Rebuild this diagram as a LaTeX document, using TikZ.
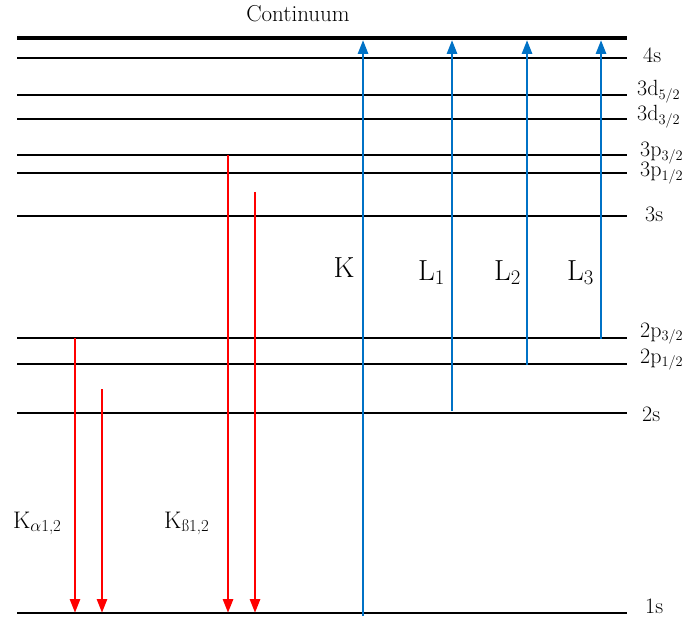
\documentclass[tikz,border=0pt]{standalone}
\usetikzlibrary{arrows.meta}
\definecolor{xblue}{RGB}{0,114,198}
\definecolor{xred}{RGB}{255,0,0}
\begin{document}
\begin{tikzpicture}[x=1pt,y=-1pt,
  lvl/.style={line width=2pt},
  cont/.style={line width=4.5pt},
  emis/.style={xred,line width=2.8pt,-{Triangle[length=14pt,width=10pt]}},
  absn/.style={xblue,line width=2.8pt,-{Triangle[length=14pt,width=10pt]}},
  lab/.style={anchor=base west,font=\fontsize{22}{26}\selectfont,inner sep=0pt},
  big/.style={anchor=base,font=\fontsize{29}{33}\selectfont,inner sep=0pt},
  kl/.style={anchor=base west,font=\fontsize{24}{28}\selectfont,inner sep=0pt}]
\useasboundingbox (0,0) rectangle (687,620);
% continuum
\coordinate (cL) at (17,38); \coordinate (cR) at (627,38);
\draw[cont] (cL) -- (cR);
\node[anchor=base,font=\fontsize{23}{26}\selectfont,inner sep=0pt] (ctext) at (298,22) {Continuum};
% levels
\foreach \n/\y in {s4/58,dA/95,dB/119,pA/155,pB/173,s3/216,qA/338,qB/364,s2/413,s1/613}{
  \coordinate (\n L) at (17,\y); \coordinate (\n R) at (627,\y);
  \draw[lvl] (\n L) -- (\n R);
}
% level labels
\node[lab] (t4s) at (643,63) {4s};
\node[lab] (t3d5) at (637,96) {3d$_{5/2}$};
\node[lab] (t3d3) at (637,121) {3d$_{3/2}$};
\node[lab] (t3p3) at (640,157) {3p$_{3/2}$};
\node[lab] (t3p1) at (640,177) {3p$_{1/2}$};
\node[lab] (t3s) at (645,222) {3s};
\node[lab] (t2p3) at (640,337) {2p$_{3/2}$};
\node[lab] (t2p1) at (640,363) {2p$_{1/2}$};
\node[lab] (t2s) at (642,421) {2s};
\node[lab] (t1s) at (645,613) {1s};
% emission arrows (red)
\coordinate (e1t) at (75,338);  \coordinate (e1b) at (75,613);
\coordinate (e2t) at (102,389); \coordinate (e2b) at (102,613);
\coordinate (e3t) at (228,155); \coordinate (e3b) at (228,613);
\coordinate (e4t) at (255,192); \coordinate (e4b) at (255,613);
\draw[emis] (e1t) -- (e1b);
\draw[emis] (e2t) -- (e2b);
\draw[emis] (e3t) -- (e3b);
\draw[emis] (e4t) -- (e4b);
% absorption arrows (blue)
\coordinate (aKb) at (363,616); \coordinate (aKt) at (363,40);
\coordinate (a1b) at (452,411); \coordinate (a1t) at (452,40);
\coordinate (a2b) at (527,365); \coordinate (a2t) at (527,40);
\coordinate (a3b) at (601,339); \coordinate (a3t) at (601,40);
\draw[absn] (aKb) -- (aKt);
\draw[absn] (a1b) -- (a1t);
\draw[absn] (a2b) -- (a2t);
\draw[absn] (a3b) -- (a3t);
% labels
\node[big] (tK) at (344,277) {K};
\node[big,anchor=base west] (tL1) at (418,280) {L$_1$};
\node[big,anchor=base west] (tL2) at (494,280) {L$_2$};
\node[big,anchor=base west] (tL3) at (567,280) {L$_3$};
\node[kl] (tKa) at (13,528) {K\textsubscript{$\alpha$1,2}};
\node[kl] (tKb) at (164,528) {K\textsubscript{ß1,2}};
\end{tikzpicture}
\end{document}
